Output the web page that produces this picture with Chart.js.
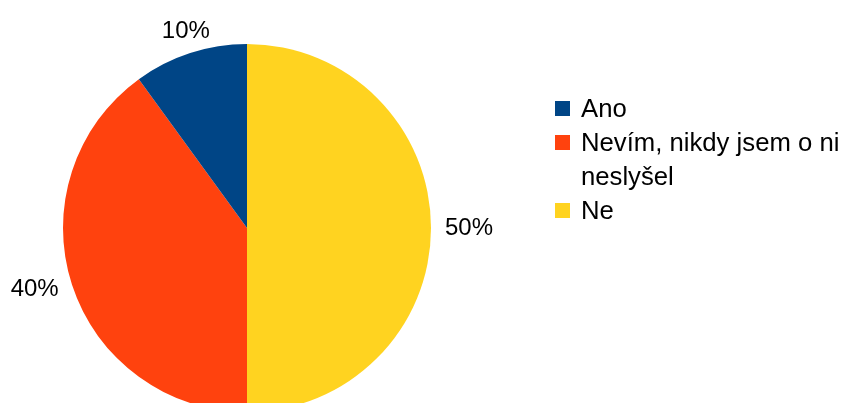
<!DOCTYPE html>
<html>
<head>
<meta charset="utf-8">
<script src="https://cdn.jsdelivr.net/npm/chart.js@4/dist/chart.umd.min.js"></script>
<style>
  html, body { margin: 0; padding: 0; background: #fff; overflow: hidden; }
  #wrap { width: 843px; height: 403px; overflow: hidden; }
</style>
</head>
<body>
<div id="wrap"><canvas id="surveyPie" width="843" height="420"></canvas></div>
<script>
// answers in legend order
const answers = ['Ano', 'Nevím, nikdy jsem o ni neslyšel', 'Ne'];
const shares = [10, 40, 50];
const sliceColors = ['#004586', '#ff420e', '#ffd320'];

const FONT = '"Liberation Sans", Arial, sans-serif';

// slices run clockwise from 12 o'clock, so feed them back to front
const order = answers.map((_, i) => i).reverse();

function wrapText(ctx, text, maxWidth) {
  const words = text.split(' ');
  const lines = [];
  let line = '';
  words.forEach(w => {
    const test = line ? line + ' ' + w : w;
    if (line && ctx.measureText(test).width > maxWidth) {
      lines.push(line);
      line = w;
    } else {
      line = test;
    }
  });
  if (line) lines.push(line);
  return lines;
}

// percentage labels just outside each slice; the text box touches
// an anchor point on the slice's mid-angle
const outsideLabels = {
  id: 'outsideLabels',
  afterDatasetsDraw(chart) {
    const ctx = chart.ctx;
    const meta = chart.getDatasetMeta(0);
    const total = shares.reduce((a, b) => a + b, 0);
    const size = 24;
    const capH = size * 0.716;
    ctx.save();
    ctx.font = size + 'px ' + FONT;
    ctx.fillStyle = '#000';
    ctx.textBaseline = 'alphabetic';
    meta.data.forEach((arc, i) => {
      const p = arc.getProps(['x', 'y', 'startAngle', 'endAngle', 'outerRadius'], true);
      const mid = (p.startAngle + p.endAngle) / 2;
      const dx = Math.cos(mid), dy = Math.sin(mid);
      const value = chart.data.datasets[0].data[i];
      const text = Math.round(value / total * 100) + '%';
      const ax = p.x + dx * (p.outerRadius + 14);
      const ay = p.y + dy * (p.outerRadius + 14);
      if (Math.abs(dx) >= Math.abs(dy)) {
        ctx.textAlign = dx > 0 ? 'left' : 'right';
        ctx.fillText(text, ax, ay + capH / 2 - 2);
      } else {
        ctx.textAlign = 'center';
        ctx.fillText(text, ax, dy < 0 ? ay - 2 : ay + capH);
      }
    });
    ctx.restore();
  }
};

// legend on the right, wraps long answers
const sideLegend = {
  id: 'sideLegend',
  afterDraw(chart) {
    const ctx = chart.ctx;
    const size = 25.7;
    const left = 555, box = 15, textX = 581;
    const lineH = 34;
    let baseline = 117;
    ctx.save();
    ctx.font = size + 'px ' + FONT;
    ctx.textAlign = 'left';
    ctx.textBaseline = 'alphabetic';
    answers.forEach((name, i) => {
      ctx.fillStyle = sliceColors[i];
      ctx.fillRect(left, baseline - box - 1, box, box);
      ctx.fillStyle = '#000';
      const lines = wrapText(ctx, name, chart.width - textX);
      lines.forEach((ln, j) => ctx.fillText(ln, textX, baseline + j * lineH));
      baseline += lines.length * lineH;
    });
    ctx.restore();
  }
};

new Chart(document.getElementById('surveyPie'), {
  type: 'pie',
  data: {
    labels: order.map(i => answers[i]),
    datasets: [{
      data: order.map(i => shares[i]),
      backgroundColor: order.map(i => sliceColors[i]),
      borderWidth: 0
    }]
  },
  options: {
    responsive: false,
    animation: false,
    rotation: 0,
    layout: { padding: { left: 63, top: 44, right: 412, bottom: 8 } },
    plugins: {
      legend: { display: false },
      tooltip: { enabled: false }
    }
  },
  plugins: [outsideLabels, sideLegend]
});
</script>
</body>
</html>
